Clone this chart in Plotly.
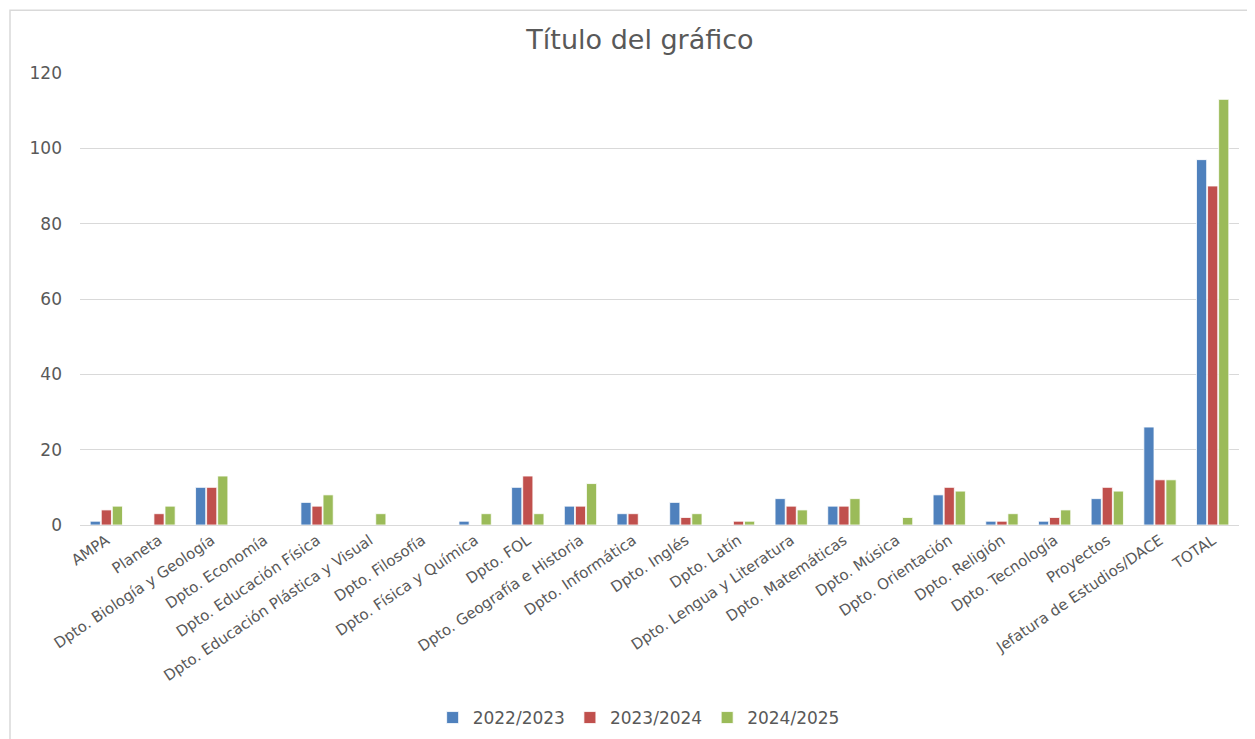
import plotly.graph_objects as go

categories = ["AMPA", "Planeta", "Dpto. Biología y Geología", "Dpto. Economía",
              "Dpto. Educación Física", "Dpto. Educación Plástica y Visual",
              "Dpto. Filosofía", "Dpto. Física y Química", "Dpto. FOL",
              "Dpto. Geografía e Historia", "Dpto. Informática", "Dpto. Inglés",
              "Dpto. Latín", "Dpto. Lengua y Literatura", "Dpto. Matemáticas",
              "Dpto. Música", "Dpto. Orientación", "Dpto. Religión",
              "Dpto. Tecnología", "Proyectos", "Jefatura de Estudios/DACE", "TOTAL"]
s2022 = [1, 0, 10, 0, 6, 0, 0, 1, 10, 5, 3, 6, 0, 7, 5, 0, 8, 1, 1, 7, 26, 97]
s2023 = [4, 3, 10, 0, 5, 0, 0, 0, 13, 5, 3, 2, 1, 5, 5, 0, 10, 1, 2, 10, 12, 90]
s2024 = [5, 5, 13, 0, 8, 3, 0, 3, 3, 11, 0, 3, 1, 4, 7, 2, 9, 3, 4, 9, 12, 113]
series_names = ["2022/2023", "2023/2024", "2024/2025"]
colors = ["#4f81bd", "#c0504d", "#9bbb59"]

fig = go.Figure()
for name, vals, c in zip(series_names, [s2022, s2023, s2024], colors):
    fig.add_trace(go.Bar(x=categories, y=vals, name=name, marker_color=c,
                         marker_line_color="white", marker_line_width=0.8))

W, H = 1255, 739
l, r, t, b = 72, 24, 65, 221
pw, ph = W - l - r, H - t - b
FONT = "DejaVu Sans"

fig.update_layout(
    width=W, height=H,
    margin=dict(l=l, r=r, t=t, b=b),
    paper_bgcolor="white", plot_bgcolor="white",
    font=dict(family=FONT, color="#595959", size=13),
    title=dict(text="Título del gráfico", x=(640 - 8) / W, xanchor="center", y=1 - 32 / H, yanchor="middle",
               font=dict(size=27, color="#595959", family=FONT)),
    barmode="group", bargap=0.37, bargroupgap=0.08,
    showlegend=True,
    legend=dict(orientation="h", x=0.482, xanchor="center", y=-(710 - (H - b)) / ph, yanchor="middle",
                font=dict(size=17, color="#595959"), itemwidth=30),
    xaxis=dict(tickangle=-34, showgrid=False, showline=True, linecolor="#d9d9d9",
               ticks="", tickfont=dict(size=15)),
    yaxis=dict(range=[0, 120], dtick=20, showgrid=True, gridcolor="#d9d9d9",
               zeroline=False, ticks="", tickfont=dict(size=17), ticklabelstandoff=17),
    shapes=[dict(type="rect", xref="paper", yref="paper",
                 x0=(2 - l) / pw, x1=(1243 - l) / pw,
                 y0=-(H - 1 - (H - b)) / ph, y1=1 + (t - 2) / ph,
                 line=dict(color="#d9d9d9", width=1.5))],
)
fig.write_html("out.html")
